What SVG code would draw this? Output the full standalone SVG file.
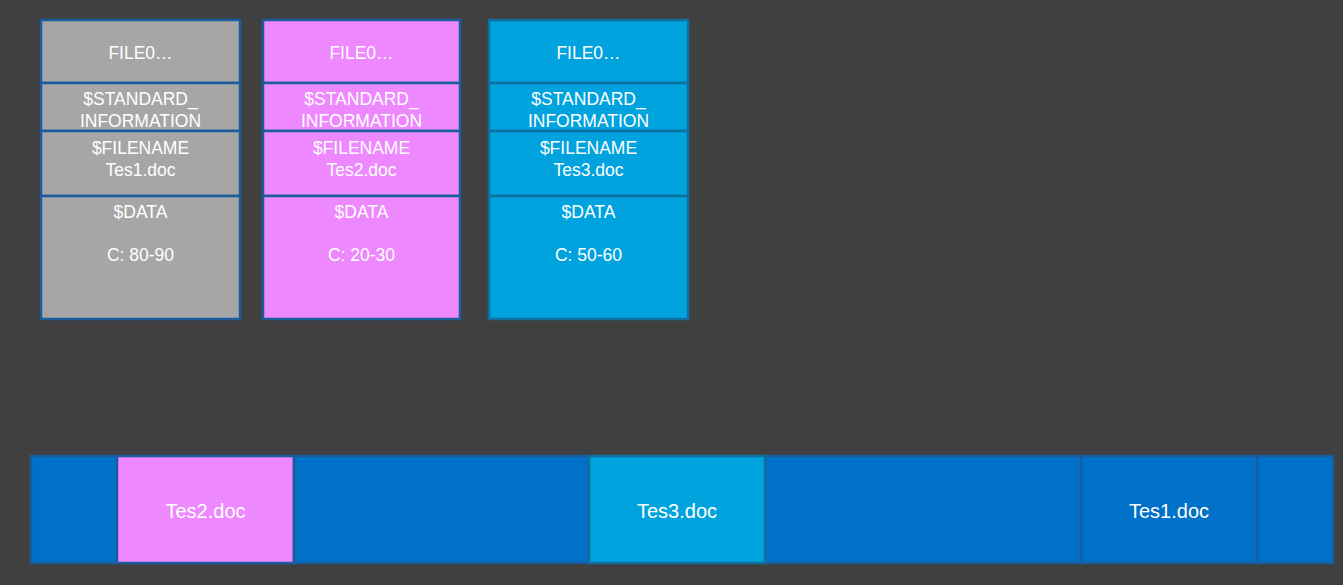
<svg xmlns="http://www.w3.org/2000/svg" width="1343" height="585" viewBox="0 0 1343 585">
<style>
.t{font-family:"Liberation Sans",Arial,sans-serif;font-size:17.5px;fill:#ffffff;text-anchor:middle}
.b{font-family:"Liberation Sans",Arial,sans-serif;font-size:20px;fill:#ffffff;text-anchor:middle}
.cell{stroke:#1b5c9c;stroke-width:2.5}
.gray{fill:#a6a6a6}.pink{fill:#ee88fe}.cyan{fill:#00a3de}.blue{fill:#0071c9}
.cb{stroke:#0f6f9f}
</style>
<rect width="1343" height="585" fill="#404040"/>
<g id="record1">
<rect class="cell gray" x="41" y="20" width="199" height="63"/>
<rect class="cell gray" x="41" y="83" width="199" height="48"/>
<rect class="cell gray" x="41" y="131" width="199" height="65"/>
<rect class="cell gray" x="41" y="196" width="199" height="123"/>
<text class="t" x="140.5" y="59">FILE0…</text>
<text class="t" x="140.5" y="105">$STANDARD_</text>
<text class="t" x="140.5" y="127">INFORMATION</text>
<text class="t" x="140.5" y="154">$FILENAME</text>
<text class="t" x="140.5" y="176">Tes1.doc</text>
<text class="t" x="140.5" y="218">$DATA</text>
<text class="t" x="140.5" y="261">C: 80-90</text>
</g>
<g id="record2">
<rect class="cell pink" x="263" y="20" width="197" height="63"/>
<rect class="cell pink" x="263" y="83" width="197" height="48"/>
<rect class="cell pink" x="263" y="131" width="197" height="65"/>
<rect class="cell pink" x="263" y="196" width="197" height="123"/>
<text class="t" x="361.5" y="59">FILE0…</text>
<text class="t" x="361.5" y="105">$STANDARD_</text>
<text class="t" x="361.5" y="127">INFORMATION</text>
<text class="t" x="361.5" y="154">$FILENAME</text>
<text class="t" x="361.5" y="176">Tes2.doc</text>
<text class="t" x="361.5" y="218">$DATA</text>
<text class="t" x="361.5" y="261">C: 20-30</text>
</g>
<g id="record3">
<rect class="cell cyan cb" x="489" y="20" width="199" height="63"/>
<rect class="cell cyan cb" x="489" y="83" width="199" height="48"/>
<rect class="cell cyan cb" x="489" y="131" width="199" height="65"/>
<rect class="cell cyan cb" x="489" y="196" width="199" height="123"/>
<text class="t" x="588.5" y="59">FILE0…</text>
<text class="t" x="588.5" y="105">$STANDARD_</text>
<text class="t" x="588.5" y="127">INFORMATION</text>
<text class="t" x="588.5" y="154">$FILENAME</text>
<text class="t" x="588.5" y="176">Tes3.doc</text>
<text class="t" x="588.5" y="218">$DATA</text>
<text class="t" x="588.5" y="261">C: 50-60</text>
</g>
<g id="disk">
<rect class="cell blue" x="31" y="456" width="86" height="107"/>
<rect class="cell pink" x="117" y="456" width="177" height="107"/>
<rect class="cell blue" x="294" y="456" width="295" height="107"/>
<rect class="cell blue" x="765" y="456" width="316" height="107"/>
<rect class="cell blue" x="1081" y="456" width="176" height="107"/>
<rect class="cell blue" x="1257" y="456" width="76" height="107"/>
<rect class="cell cyan cb" x="589" y="456" width="176" height="107"/>
<text class="b" x="205.5" y="518">Tes2.doc</text>
<text class="b" x="677" y="518">Tes3.doc</text>
<text class="b" x="1169" y="518">Tes1.doc</text>
</g>
<g id="connectors"></g>
</svg>
